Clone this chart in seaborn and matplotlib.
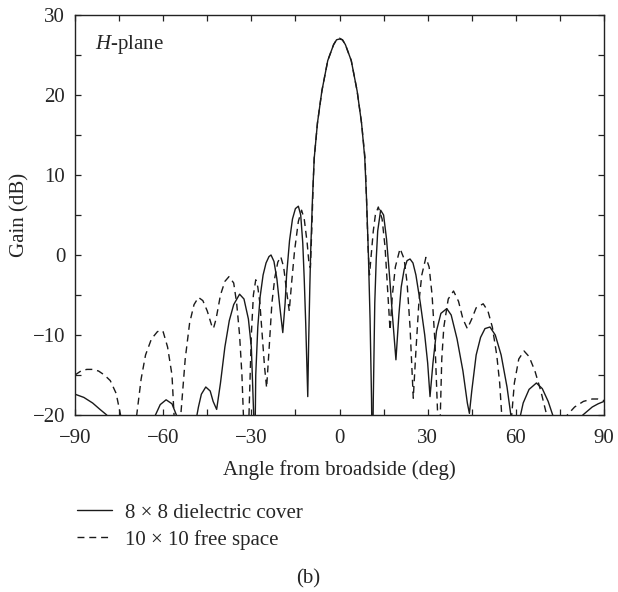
import numpy as np
import pandas as pd
import matplotlib
matplotlib.use("Agg")
import matplotlib.pyplot as plt
from matplotlib.lines import Line2D
import seaborn as sns

# ---- data ----
cover_angle = [-90, -87, -84, -81.5, -79.2, -78, -75, -70, -66, -63, -61, -59, -57, -55.5, -54, -51,
               -49, -48, -47, -45.5, -44, -43, -41.8, -40.5, -39, -37.5, -36, -34, -32.5, -31, -30,
               -29.2, -28.8, -28.5, -27.8, -27, -26, -25, -24, -23.3, -22.3, -21.3, -20.3, -19.3,
               -18.5, -18, -17, -16, -15, -14, -13.2, -12.5, -12, -11.5, -11.1, -10.8, -10.5, -10.1,
               -9.8, -9.2, -8.6, -7.5, -6, -4, -2, -1, 0, 1, 2, 4, 6, 7.5, 8.6, 9.2, 9.8, 10.4,
               10.9, 11.2, 11.5, 12, 12.5, 13, 14, 15, 16, 17, 18, 19.2, 20.2, 21, 22, 23, 24, 25,
               26, 27.5, 29, 30, 30.8, 31.8, 33, 34.5, 36.5, 38, 40, 42, 43.5, 44.2, 45, 46.5, 48,
               49.5, 51.2, 53, 55, 57, 58.3, 59.5, 61, 62.5, 64.5, 67, 69, 71, 73, 74, 76, 78, 80,
               82.8, 86, 88, 90]
cover_gain = [-17.4, -17.8, -18.5, -19.3, -20, -22, -28, -30, -24, -20.3, -18.7, -18.1, -18.6, -20, -23, -30,
              -21, -19, -17.4, -16.5, -17, -18.3, -19.3, -16, -11.5, -8.2, -6.2, -4.9, -5.5, -8, -11.5,
              -20, -25, -15, -9, -5.2, -2.5, -1, -0.2, 0, -0.8, -3, -6.5, -9.7,
              -6, -2.5, 1.8, 4.5, 5.8, 6.1, 5, 1.5, -3, -8.5, -14, -17.7, -11, -4,
              0.5, 7, 12.1, 16.5, 20.5, 24.3, 26.3, 26.9, 27.0, 26.9, 26.3, 24.3, 20.5, 16.5, 12.1, 7, 0.5, -8,
              -18, -28, -18, -6, -0.5, 3, 5.6, 5, 2, -2.5, -7.5, -13.1, -7.5, -4, -1.8, -0.7, -0.5, -1,
              -2.5, -6, -10, -13.5, -17.7, -13.5, -9.5, -7.3, -6.7, -7.5, -10.5, -14.5, -18.5, -19.8, -17, -12.5, -10.3,
              -9.2, -9.0, -10, -12.5, -16.5, -20, -25, -21, -18.5, -16.8, -16, -16.7, -18.3, -20.5, -25, -30, -25, -21.5,
              -20, -19, -18.6, -18.3]

free_angle = [-90, -88, -86, -84, -82, -80, -78, -76, -74.5, -73, -71.5, -70, -69, -67.5, -66, -64, -62, -61,
              -60, -58.5, -57, -56.3, -55.5, -54.5, -54, -52.5, -51, -49.5, -48, -46.5, -45, -43.5, -42.9,
              -42, -40.5, -39, -37.6, -36, -35, -34, -33.2, -32.7, -32, -31.5, -30.8, -30, -29.3, -28.5,
              -27.8, -27.1, -26.3, -25.5, -24.8, -24, -23, -22, -21, -20, -19, -18, -17.1, -16.3, -15.3,
              -14, -12.9, -12, -11, -10.4, -9.9, -9.4, -8.9, -8.6, -7.5, -6, -4, -2, -1, 0, 1, 2, 4, 6,
              7.5, 8.7, 9.2, 9.7, 10.2, 10.8, 11.5, 12.2, 13.2, 14.5, 15.5, 16.5, 17.2, 18, 19, 20.6, 22,
              23, 24, 25.1, 26, 27, 28, 29.4, 30.5, 31.5, 32.5, 33.4, 33.8, 34.3, 34.8, 35.5, 37, 38.8,
              40.5, 42, 43.5, 45, 46.5, 48.9, 50.5, 52, 53.5, 54.5, 55.2, 56.5, 58, 58.6, 59.5, 61, 62.8,
              64.5, 66.5, 68.5, 70.5, 72, 74, 76, 77.5, 80, 83, 86, 88, 90]
free_gain = [-15.0, -14.5, -14.3, -14.3, -14.5, -15.0, -15.7, -17.3, -20, -25, -30, -22, -20, -15.5, -12.5, -10.5, -9.6, -9.4,
             -9.6, -11.5, -15, -20, -30, -22, -20, -13, -8.5, -6.2, -5.3, -5.7, -7, -8.8, -9.2,
             -8, -5, -3.3, -2.7, -3.5, -6, -10, -15, -20, -30, -25, -20, -10, -5, -3.1,
             -4, -6, -10, -14, -16.6, -12, -6, -2.8, -0.9, -0.2, -1.5, -4.5, -7.0, -3.5, 0.5,
             4.2, 5.6, 4.5, 1.5, -1.0, -1.6, 3.5, 9.5, 12.1, 16.5, 20.5, 24.3, 26.3, 26.9, 27.1, 26.9, 26.3, 24.3, 20.5,
             16.5, 12.1, 7, 1, -2.5, 0, 3, 5, 6, 4.5, 1, -5, -9.4, -5, -1.5, 0.8, -0.5,
             -3.5, -9, -17.9, -12, -6, -2.5, -0.3, -1.5, -5, -11, -20, -30, -20, -13, -9, -5.5, -4.5,
             -5.8, -8, -9.2, -8, -6.6, -6.1, -7, -9, -12.5, -16, -20, -30, -23, -20, -16, -13, -12,
             -12.7, -14.5, -17, -20, -25, -30, -25, -20, -19, -18.3, -18.0, -18.0, -18.2]

series_labels = ["8 \u00d7 8 dielectric cover", "10 \u00d7 10 free space"]
x_ticklabels = [-90, -60, -30, 0, 30, 60, 90]
y_ticklabels = [-20, -10, 0, 10, 20, 30]

df = pd.concat([
    pd.DataFrame({"angle": cover_angle, "gain": cover_gain, "series": series_labels[0]}),
    pd.DataFrame({"angle": free_angle, "gain": free_gain, "series": series_labels[1]}),
])

sns.set_style("ticks")
plt.rcParams["font.family"] = ["Liberation Serif", "DejaVu Serif"]
plt.rcParams["mathtext.fontset"] = "custom"
plt.rcParams["mathtext.it"] = "Liberation Serif:italic"
plt.rcParams["mathtext.rm"] = "Liberation Serif"

FS = 15
fig = plt.figure(figsize=(6.18, 5.92), dpi=100)
ax = fig.add_axes([75 / 618, 1 - 415 / 592, (604 - 75) / 618, 400 / 592])

sns.lineplot(data=df, x="angle", y="gain", style="series", style_order=series_labels,
             dashes={series_labels[0]: "", series_labels[1]: (5, 3.5)},
             color="#1a1a1a", linewidth=1.0, estimator=None, sort=False, ax=ax, legend=False)

ax.set_xlim(-90, 90)
ax.set_ylim(-20, 30)
xt = np.arange(-90, 91, 15)
yt = np.arange(-20, 31, 5)
ax.set_xticks(xt)
ax.set_xticklabels([str(v).replace("-", "\u2212") if v in x_ticklabels else "" for v in xt])
ax.set_yticks(yt)
ax.set_yticklabels([str(v).replace("-", "\u2212") if v in y_ticklabels else "" for v in yt])
ax.tick_params(direction="in", length=4, width=0.9, top=True, right=True, labelsize=FS, color="#222222")
ax.tick_params(axis="x", pad=10)
ax.tick_params(axis="y", pad=7)
for s in ax.spines.values():
    s.set_linewidth(1.0)
    s.set_color("#222222")

ax.set_xlabel("Angle from broadside (deg)", fontsize=FS)
ax.set_ylabel("Gain (dB)", fontsize=FS)
ax.xaxis.set_label_coords(0.5, -0.1125)
ax.yaxis.set_label_coords(-0.086, 0.5)

ax.text(0.038, 0.925, "$H$-plane", transform=ax.transAxes, fontsize=FS, va="center", ha="left")

handles = [Line2D([], [], color="#1a1a1a", lw=1.0),
           Line2D([], [], color="#1a1a1a", lw=1.0, dashes=(5, 3.5))]
fig.legend(handles, series_labels, loc="upper left", bbox_to_anchor=(77 / 618, 1 - 503 / 592),
           frameon=False, fontsize=FS, handlelength=1.7, handletextpad=0.6, borderpad=0,
           borderaxespad=0, labelspacing=0.35)

fig.text(308 / 618, 1 - 579 / 592, "(b)", fontsize=FS, ha="center", va="center")

fig.savefig("out.png", dpi=100)
